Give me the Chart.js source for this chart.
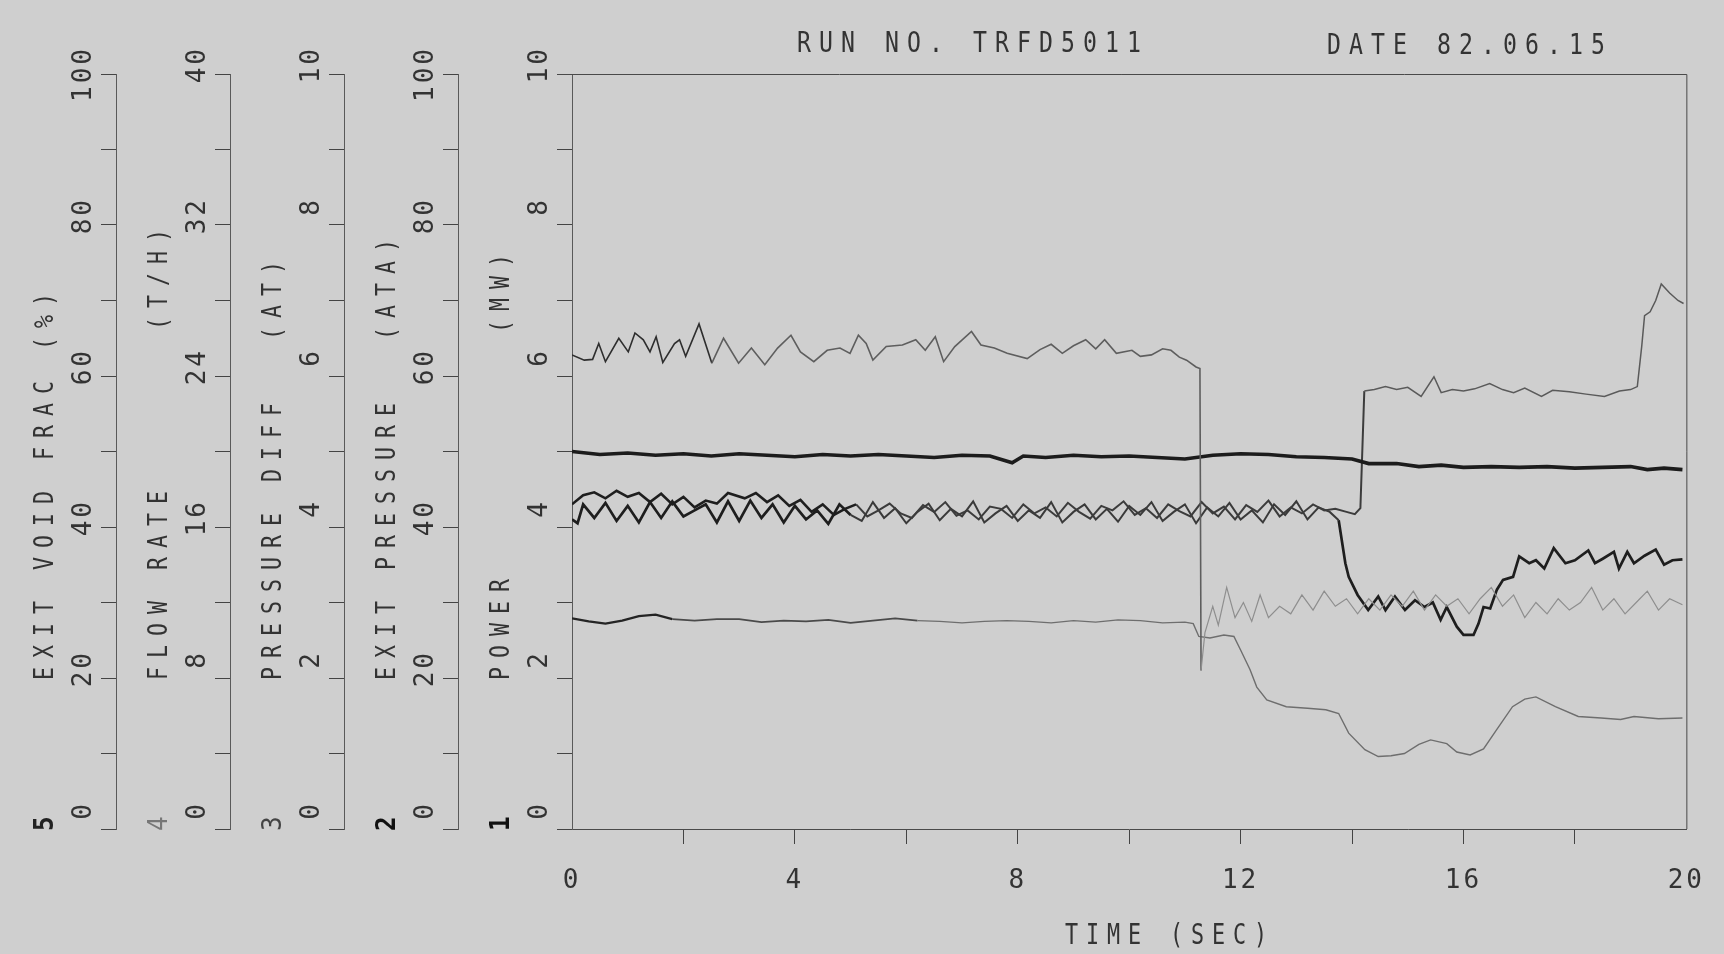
<!DOCTYPE html>
<html>
<head>
<meta charset="utf-8">
<title>RUN NO. TRFD5011</title>
<script src="https://cdn.jsdelivr.net/npm/chart.js@4.4.1/dist/chart.umd.min.js"></script>
<style>
  html, body { margin: 0; padding: 0; background: #cfcfcf; }
  #wrap { width: 1724px; height: 954px; }
</style>
</head>
<body>
<div id="wrap"><canvas id="plot" width="1724" height="954"></canvas></div>
<script>

// noisy trace that starts near 6.3 and falls away at 11.3 s
const timeA = [
    0, 0.22, 0.37, 0.48, 0.6, 0.84, 1.01, 1.13, 1.28, 1.4,
    1.51, 1.63, 1.84, 1.93, 2.04, 2.28, 2.51, 2.72, 2.99, 3.22,
    3.46, 3.69, 3.93, 4.1, 4.34, 4.58, 4.81, 4.99, 5.14, 5.28,
    5.4, 5.64, 5.93, 6.17, 6.34, 6.52, 6.67, 6.87, 7.17, 7.34,
    7.58, 7.81, 8.17, 8.4, 8.6, 8.8, 9.0, 9.22, 9.4, 9.56,
    9.77, 10.05, 10.2, 10.4, 10.6, 10.75, 10.9, 11.03, 11.2, 11.27,
    11.29, 11.36, 11.5, 11.6, 11.75, 11.9, 12.05, 12.2, 12.35, 12.5,
    12.7, 12.9, 13.1, 13.3, 13.5, 13.7, 13.9, 14.1, 14.3, 14.5,
    14.7, 14.9, 15.1, 15.3, 15.5, 15.7, 15.9, 16.1, 16.3, 16.5,
    16.7, 16.9, 17.1, 17.3, 17.5, 17.7, 17.9, 18.1, 18.3, 18.5,
    18.7, 18.9, 19.1, 19.3, 19.5, 19.7, 19.93
];
const traceA = [
    6.28, 6.21, 6.22, 6.43, 6.19, 6.50, 6.32, 6.57, 6.48, 6.32,
    6.52, 6.18, 6.43, 6.48, 6.26, 6.69, 6.17, 6.50, 6.17, 6.37,
    6.15, 6.37, 6.54, 6.32, 6.19, 6.34, 6.37, 6.30, 6.54, 6.43,
    6.21, 6.39, 6.41, 6.48, 6.34, 6.52, 6.19, 6.39, 6.59, 6.41,
    6.37, 6.30, 6.23, 6.35, 6.42, 6.30, 6.40, 6.48, 6.36, 6.48,
    6.30, 6.34, 6.26, 6.28, 6.36, 6.34, 6.25, 6.21, 6.12, 6.10,
    2.10, 2.60, 2.95, 2.70, 3.20, 2.80, 3.00, 2.75, 3.10, 2.80,
    2.95, 2.85, 3.10, 2.90, 3.15, 2.95, 3.05, 2.85, 3.05, 2.90,
    3.10, 2.95, 3.15, 2.90, 3.10, 2.95, 3.05, 2.85, 3.05, 3.20,
    2.95, 3.10, 2.80, 3.00, 2.85, 3.05, 2.90, 3.00, 3.20, 2.90,
    3.05, 2.85, 3.00, 3.15, 2.90, 3.05, 2.97
];

// heavy, almost flat trace near 4.9
const timeB = [
    0, 0.5, 1.0, 1.5, 2.0, 2.5, 3.0, 3.5, 4.0, 4.5,
    5.0, 5.5, 6.0, 6.5, 7.0, 7.5, 7.9, 8.1, 8.5, 9.0,
    9.5, 10.0, 10.5, 11.0, 11.5, 12.0, 12.5, 13.0, 13.5, 14.0,
    14.3, 14.8, 15.2, 15.6, 16.0, 16.5, 17.0, 17.5, 18.0, 18.5,
    19.0, 19.3, 19.6, 19.93
];
const traceB = [
    5.00, 4.96, 4.98, 4.95, 4.97, 4.94, 4.97, 4.95, 4.93, 4.96,
    4.94, 4.96, 4.94, 4.92, 4.95, 4.94, 4.85, 4.94, 4.92, 4.95,
    4.93, 4.94, 4.92, 4.90, 4.95, 4.97, 4.96, 4.93, 4.92, 4.90,
    4.84, 4.84, 4.80, 4.82, 4.79, 4.80, 4.79, 4.80, 4.78, 4.79,
    4.80, 4.76, 4.78, 4.76
];

// noisy pair near 4.2: the first steps up twice, the second drops at 13.8 s
const timeC1 = [
    0, 0.2, 0.4, 0.6, 0.8, 1.0, 1.2, 1.4, 1.6, 1.8,
    2.0, 2.2, 2.4, 2.6, 2.8, 3.1, 3.3, 3.5, 3.7, 3.9,
    4.1, 4.3, 4.5, 4.7, 4.9, 5.1, 5.3, 5.5, 5.7, 5.9,
    6.1, 6.3, 6.5, 6.7, 6.9, 7.1, 7.3, 7.5, 7.7, 7.9,
    8.1, 8.3, 8.5, 8.7, 8.9, 9.1, 9.3, 9.5, 9.7, 9.9,
    10.1, 10.3, 10.5, 10.7, 10.9, 11.1, 11.3, 11.5, 11.7, 11.9,
    12.1, 12.3, 12.5, 12.7, 12.9, 13.1, 13.3, 13.5, 13.7, 13.9,
    14.05, 14.15, 14.22, 14.4, 14.6, 14.8, 15.0, 15.24, 15.47, 15.6,
    15.8, 16.0, 16.2, 16.47, 16.7, 16.9, 17.1, 17.4, 17.6, 17.9,
    18.2, 18.53, 18.8, 19.0, 19.12, 19.2, 19.25, 19.35, 19.45, 19.55,
    19.7, 19.85, 19.95
];
const traceC1 = [
    4.30, 4.42, 4.46, 4.38, 4.48, 4.40, 4.45, 4.33, 4.44, 4.30,
    4.40, 4.26, 4.35, 4.31, 4.45, 4.38, 4.45, 4.33, 4.42, 4.28,
    4.36, 4.20, 4.30, 4.16, 4.24, 4.30, 4.14, 4.22, 4.31, 4.18,
    4.12, 4.29, 4.20, 4.33, 4.15, 4.22, 4.10, 4.27, 4.24, 4.12,
    4.30, 4.18, 4.26, 4.14, 4.32, 4.20, 4.11, 4.28, 4.22, 4.34,
    4.16, 4.25, 4.12, 4.30, 4.21, 4.14, 4.33, 4.18, 4.27, 4.10,
    4.29, 4.20, 4.35, 4.14, 4.26, 4.18, 4.30, 4.22, 4.24, 4.20,
    4.17, 4.25, 5.80, 5.82, 5.86, 5.82, 5.85, 5.73, 5.99, 5.78,
    5.82, 5.80, 5.83, 5.90, 5.82, 5.78, 5.84, 5.73, 5.81, 5.79,
    5.76, 5.73, 5.80, 5.82, 5.86, 6.40, 6.80, 6.85, 7.00, 7.22,
    7.10, 7.00, 6.96
];
const timeC2 = [
    0, 0.1, 0.2, 0.4, 0.6, 0.8, 1.0, 1.2, 1.4, 1.6,
    1.8, 2.0, 2.2, 2.4, 2.6, 2.8, 3.0, 3.2, 3.4, 3.6,
    3.8, 4.0, 4.2, 4.4, 4.6, 4.8, 5.0, 5.2, 5.4, 5.6,
    5.8, 6.0, 6.2, 6.4, 6.6, 6.8, 7.0, 7.2, 7.4, 7.6,
    7.8, 8.0, 8.2, 8.4, 8.6, 8.8, 9.0, 9.2, 9.4, 9.6,
    9.8, 10.0, 10.2, 10.4, 10.6, 10.8, 11.0, 11.2, 11.4, 11.6,
    11.8, 12.0, 12.2, 12.4, 12.6, 12.8, 13.0, 13.2, 13.4, 13.6,
    13.76, 13.88, 13.94, 14.1, 14.29, 14.47, 14.6, 14.77, 14.95, 15.13,
    15.3, 15.45, 15.59, 15.7, 15.88, 16.0, 16.18, 16.27, 16.36, 16.48,
    16.6, 16.71, 16.89, 17.0, 17.18, 17.3, 17.45, 17.62, 17.83, 18.0,
    18.24, 18.36, 18.5, 18.7, 18.79, 18.94, 19.06, 19.25, 19.45, 19.6,
    19.75, 19.93
];
const traceC2 = [
    4.10, 4.05, 4.30, 4.12, 4.32, 4.08, 4.28, 4.06, 4.33, 4.12,
    4.34, 4.14, 4.22, 4.30, 4.06, 4.34, 4.08, 4.35, 4.12, 4.30,
    4.06, 4.28, 4.10, 4.22, 4.04, 4.30, 4.16, 4.08, 4.33, 4.12,
    4.25, 4.05, 4.20, 4.31, 4.09, 4.24, 4.14, 4.34, 4.06, 4.18,
    4.28, 4.08, 4.22, 4.12, 4.33, 4.06, 4.20, 4.30, 4.10, 4.24,
    4.07, 4.28, 4.16, 4.33, 4.08, 4.20, 4.30, 4.05, 4.26, 4.14,
    4.32, 4.10, 4.22, 4.06, 4.30, 4.16, 4.34, 4.10, 4.26, 4.20,
    4.09, 3.52, 3.34, 3.10, 2.90, 3.08, 2.90, 3.08, 2.90, 3.03,
    2.94, 3.00, 2.77, 2.94, 2.68, 2.57, 2.57, 2.72, 2.94, 2.92,
    3.17, 3.30, 3.34, 3.61, 3.52, 3.56, 3.45, 3.72, 3.52, 3.56,
    3.69, 3.52, 3.58, 3.67, 3.45, 3.67, 3.52, 3.62, 3.70, 3.50,
    3.56, 3.57
];

// smooth trace near 2.75 that decays after 11.3 s
const timeD = [
    0, 0.3, 0.6, 0.9, 1.2, 1.5, 1.8, 2.2, 2.6, 3.0,
    3.4, 3.8, 4.2, 4.6, 5.0, 5.4, 5.8, 6.2, 6.6, 7.0,
    7.4, 7.8, 8.2, 8.6, 9.0, 9.4, 9.8, 10.2, 10.6, 11.0,
    11.15, 11.25, 11.45, 11.7, 11.88, 12.0, 12.17, 12.29, 12.47, 12.82,
    13.2, 13.53, 13.76, 13.94, 14.23, 14.47, 14.7, 14.94, 15.2, 15.41,
    15.7, 15.88, 16.12, 16.36, 16.59, 16.88, 17.1, 17.3, 17.65, 18.06,
    18.47, 18.82, 19.06, 19.5, 19.93
];
const traceD = [
    2.79, 2.75, 2.72, 2.76, 2.82, 2.84, 2.78, 2.76, 2.78, 2.78,
    2.74, 2.76, 2.75, 2.77, 2.73, 2.76, 2.79, 2.76, 2.75, 2.73,
    2.75, 2.76, 2.75, 2.73, 2.76, 2.74, 2.77, 2.76, 2.73, 2.74,
    2.72, 2.55, 2.53, 2.57, 2.55, 2.37, 2.11, 1.88, 1.71, 1.62,
    1.60, 1.58, 1.53, 1.27, 1.05, 0.96, 0.97, 1.00, 1.12, 1.18,
    1.13, 1.02, 0.98, 1.06, 1.31, 1.62, 1.72, 1.75, 1.62, 1.49,
    1.47, 1.45, 1.49, 1.46, 1.47
];

// axis names, units, and channel numbers, outermost axis first
const axisNames = ['EXIT VOID FRAC', 'FLOW RATE', 'PRESSURE DIFF', 'EXIT PRESSURE', 'POWER'];
const axisUnits = ['(%)', '(T/H)', '(AT)', '(ATA)', '(MW)'];
const axisMax = [100, 40, 10, 100, 10];
const axisStep = [10, 4, 1, 10, 1];
const axisLabelEvery = [20, 8, 2, 20, 2];
const channelNumbers = ['5', '4', '3', '2', '1'];

const runTitle = 'RUN NO. TRFD5011';
const dateTitle = 'DATE 82.06.15';
const timeTitle = 'TIME (SEC)';

const PLOT_FONT = '"DejaVu Sans Mono", "Liberation Mono", monospace';
const INK = '#333';

function toPoints(times, values) {
    return times.map((t, i) => ({ x: t, y: values[i] }));
}

// plotter style text: narrow glyphs on a fixed pitch, optionally turned to read upward
function plotterText(ctx, str, x, y, o) {
    const size = o.size || 27;
    const pitch = o.pitch || 22;
    const squeeze = o.squeeze || 0.8;
    ctx.save();
    ctx.translate(x, y);
    if (o.vertical) ctx.rotate(-Math.PI / 2);
    ctx.scale(squeeze, 1);
    ctx.font = (o.weight || 'normal') + ' ' + size + 'px ' + PLOT_FONT;
    ctx.letterSpacing = '0px';
    const adv = ctx.measureText('0').width;
    ctx.letterSpacing = (pitch / squeeze - adv).toFixed(2) + 'px';
    ctx.fillStyle = o.color || INK;
    ctx.textAlign = 'left';
    ctx.textBaseline = 'middle';
    ctx.fillText(str, 0, 0);
    ctx.restore();
}

const plotterDecor = {
    id: 'plotterDecor',
    beforeDraw(chart) {
        const ctx = chart.ctx;
        ctx.save();
        ctx.fillStyle = '#cfcfcf';
        ctx.fillRect(0, 0, chart.width, chart.height);
        ctx.restore();
        // wider spacing for the axis tick numbers
        ctx.letterSpacing = '3px';
    },
    afterDraw(chart) {
        const ctx = chart.ctx;
        const a = chart.chartArea;

        // frame: top line and right edge
        ctx.save();
        ctx.strokeStyle = '#4a4a4a';
        ctx.lineWidth = 1;
        ctx.beginPath();
        ctx.moveTo(a.left - 15, a.top + 0.5);
        ctx.lineTo(a.right + 0.5, a.top + 0.5);
        ctx.lineTo(a.right + 0.5, a.bottom);
        ctx.stroke();
        ctx.restore();

        plotterText(ctx, runTitle, 797, 44, { size: 29, pitch: 22 });
        plotterText(ctx, dateTitle, 1327, 46, { size: 29, pitch: 22 });
        plotterText(ctx, timeTitle, 1065, 936, { size: 29, pitch: 21, squeeze: 0.75 });

        const unitStart = [350, 330, 340, 340, 333];
        const numberWeight = ['bold', 'normal', 'normal', 'bold', 'bold'];
        const numberColor = ['#222', '#777', '#444', '#111', '#111'];
        ['y5', 'y4', 'y3', 'y2', 'y1'].forEach((id, i) => {
            const s = chart.scales[id];
            const cx = s.right - 70;
            plotterText(ctx, axisNames[i], cx, 680, { vertical: true });
            plotterText(ctx, axisUnits[i], cx, unitStart[i], { vertical: true });
            plotterText(ctx, channelNumbers[i], cx, 831, {
                vertical: true, weight: numberWeight[i], color: numberColor[i], squeeze: 0.9
            });
        });
    }
};

function leftAxis(i) {
    return {
        type: 'linear',
        position: 'left',
        min: 0,
        max: axisMax[i],
        weight: 4 - i,
        afterFit: s => { s.width = 114; },
        border: { display: true, color: '#5a5a5a', width: 1 },
        grid: { drawOnChartArea: false, drawTicks: true, tickLength: 15, color: '#444', lineWidth: 1 },
        ticks: {
            stepSize: axisStep[i],
            autoSkip: false,
            minRotation: 90,
            maxRotation: 90,
            padding: 17,
            labelOffset: -28,
            color: INK,
            font: { family: PLOT_FONT, size: 26 },
            callback: v => (v % axisLabelEvery[i] === 0 ? String(v) : '')
        }
    };
}

const scales = {
    x: {
        type: 'linear',
        min: 0,
        max: 20,
        afterFit: s => { s.height = 125; },
        border: { display: true, color: '#4a4a4a', width: 1 },
        grid: {
            drawOnChartArea: false,
            tickLength: 15,
            color: c => (c.tick && (c.tick.value === 0 || c.tick.value === 20)) ? 'rgba(0,0,0,0)' : '#444'
        },
        ticks: {
            stepSize: 2,
            autoSkip: false,
            minRotation: 0,
            maxRotation: 0,
            padding: 22,
            color: INK,
            font: { family: PLOT_FONT, size: 26 },
            callback: v => (v % 4 === 0 ? String(v) : '')
        }
    }
};
['y5', 'y4', 'y3', 'y2', 'y1'].forEach((id, i) => { scales[id] = leftAxis(i); });

function shade(split, before, after) {
    return c => (c.p0.parsed.x < split ? before : after);
}

new Chart(document.getElementById('plot'), {
    type: 'line',
    data: {
        datasets: [
            {
                label: 'trace A',
                data: toPoints(timeA, traceA),
                yAxisID: 'y1',
                borderWidth: 1.6,
                segment: {
                    borderColor: c => c.p0.parsed.x >= 11.28 ? '#8e8e8e' : (c.p0.parsed.x < 2.5 ? '#2e2e2e' : '#5e5e5e'),
                    borderWidth: shade(11.28, 1.6, 1.2)
                }
            },
            {
                label: 'trace B',
                data: toPoints(timeB, traceB),
                yAxisID: 'y1',
                borderColor: '#1c1c1c',
                borderWidth: 3.6
            },
            {
                label: 'trace C1',
                data: toPoints(timeC1, traceC1),
                yAxisID: 'y1',
                borderWidth: 2.4,
                segment: {
                    borderColor: c => c.p0.parsed.x >= 14.2 ? '#5a5a5a' : (c.p0.parsed.x < 5 ? '#1e1e1e' : '#3c3c3c'),
                    borderWidth: c => c.p0.parsed.x >= 14.2 ? 1.5 : (c.p0.parsed.x < 5 ? 2.6 : 2.0)
                }
            },
            {
                label: 'trace C2',
                data: toPoints(timeC2, traceC2),
                yAxisID: 'y1',
                borderWidth: 2.6,
                segment: {
                    borderColor: c => (c.p0.parsed.x >= 5 && c.p0.parsed.x < 13.7) ? '#3a3a3a' : '#1e1e1e',
                    borderWidth: c => (c.p0.parsed.x >= 5 && c.p0.parsed.x < 13.7) ? 2.0 : 2.7
                }
            },
            {
                label: 'trace D',
                data: toPoints(timeD, traceD),
                yAxisID: 'y1',
                borderWidth: 1.8,
                segment: {
                    borderColor: c => c.p0.parsed.x < 1.6 ? '#242424' : (c.p0.parsed.x < 6 ? '#4a4a4a' : '#6e6e6e'),
                    borderWidth: c => c.p0.parsed.x < 1.6 ? 2.3 : (c.p0.parsed.x < 6 ? 1.8 : 1.4)
                }
            }
        ]
    },
    options: {
        responsive: false,
        animation: false,
        devicePixelRatio: 1,
        layout: { padding: { left: 2, top: 74, right: 20, bottom: 0 } },
        elements: {
            point: { radius: 0, hoverRadius: 0 },
            line: { tension: 0, fill: false }
        },
        plugins: {
            legend: { display: false },
            tooltip: { enabled: false }
        },
        scales: scales
    },
    plugins: [plotterDecor]
});
</script>
</body>
</html>
